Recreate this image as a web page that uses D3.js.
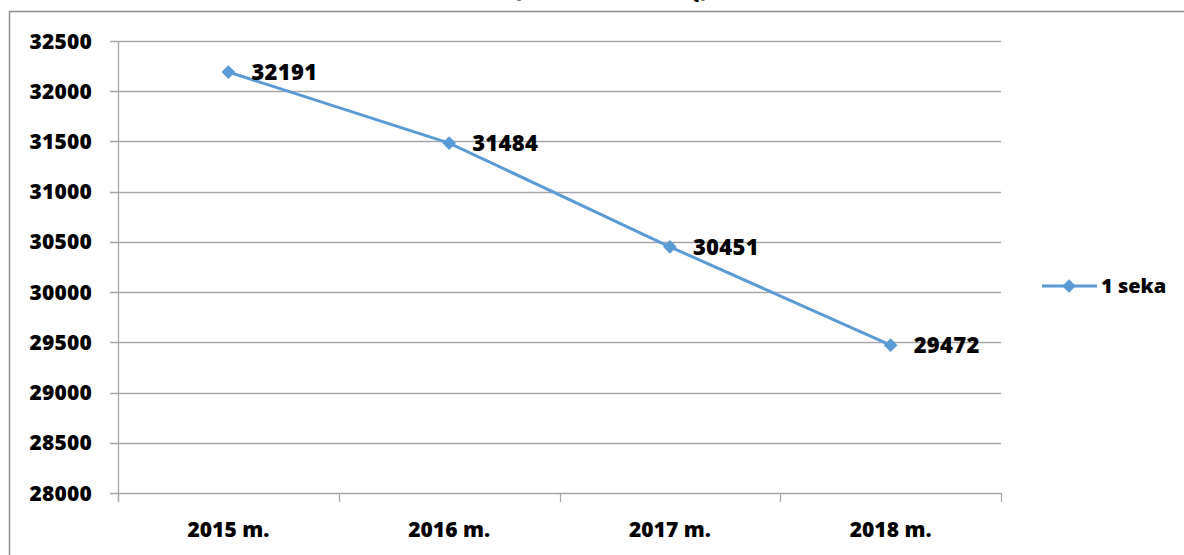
<!DOCTYPE html>
<html>
<head>
<meta charset="utf-8">
<script src="https://cdn.jsdelivr.net/npm/d3@7"></script>
<style>
  body { margin: 0; background: #fff; }
  svg text { font-family: "Open Sans", sans-serif; font-weight: 800; fill: #000; }
</style>
</head>
<body>
<svg width="1184" height="555"></svg>
<script>
// data
const years = ["2015 m.", "2016 m.", "2017 m.", "2018 m."];
const values = [32191, 31484, 30451, 29472];
const yTicks = [28000, 28500, 29000, 29500, 30000, 30500, 31000, 31500, 32000, 32500];
const seriesName = "1 seka";
const titleText = "(1 seka, mokinių)";

const svg = d3.select("svg");
const blue = "#5b9bd5";
const grid = "#a6a6a6";

// outer chart border (runs off the right/bottom edge)
svg.append("rect")
  .attr("x", 9.5).attr("y", 11.5)
  .attr("width", 1200).attr("height", 600)
  .attr("fill", "none").attr("stroke", "#8c8c8c").attr("stroke-width", 1.5);

// title, mostly cut off above the picture
svg.append("text")
  .attr("x", 611).attr("y", -4)
  .attr("text-anchor", "middle")
  .style("font-size", "22px")
  .text(titleText);

const x = d3.scaleBand().domain(years).range([118, 1001]);
const y = d3.scaleLinear().domain([28000, 32500]).range([493, 41]);

// gridlines
svg.append("g")
  .selectAll("line")
  .data(yTicks)
  .enter()
  .append("line")
  .attr("x1", 110).attr("x2", 1001)
  .attr("y1", (d) => Math.round(y(d)) + 0.5)
  .attr("y2", (d) => Math.round(y(d)) + 0.5)
  .attr("stroke", grid).attr("stroke-width", 1.3);

// y axis line
svg.append("line")
  .attr("x1", 118.5).attr("x2", 118.5)
  .attr("y1", 41).attr("y2", 502)
  .attr("stroke", grid).attr("stroke-width", 1.3);

// x ticks
const xEdges = years.map((d) => x(d)).concat([x.range()[1]]);
svg.append("g")
  .selectAll("line")
  .data(xEdges)
  .enter()
  .append("line")
  .attr("x1", (d) => Math.round(d) + 0.5)
  .attr("x2", (d) => Math.round(d) + 0.5)
  .attr("y1", 493).attr("y2", 502)
  .attr("stroke", grid).attr("stroke-width", 1.3);

// y labels
svg.append("g")
  .selectAll("text")
  .data(yTicks)
  .enter()
  .append("text")
  .attr("x", 92)
  .attr("y", (d) => y(d))
  .attr("dy", "0.36em")
  .attr("text-anchor", "end")
  .style("font-size", "21px")
  .style("letter-spacing", "0.2px")
  .text((d) => d);

// x labels
svg.append("g")
  .selectAll("text")
  .data(years)
  .enter()
  .append("text")
  .attr("x", (d) => x(d) + x.bandwidth() / 2)
  .attr("y", 537)
  .attr("text-anchor", "middle")
  .style("font-size", "21px")
  .text((d) => d);

// line
const pts = years.map((d, i) => [x(d) + x.bandwidth() / 2, y(values[i])]);
svg.append("path")
  .attr("d", d3.line()(pts))
  .attr("fill", "none")
  .attr("stroke", blue)
  .attr("stroke-width", 3);

const diamond = d3.symbol().type(d3.symbolDiamond2).size(120);
svg.append("g")
  .selectAll("path")
  .data(pts)
  .enter()
  .append("path")
  .attr("d", diamond)
  .attr("transform", (d) => `translate(${d[0]},${d[1]})`)
  .attr("fill", blue);

// data labels
svg.append("g")
  .selectAll("text")
  .data(values)
  .enter()
  .append("text")
  .attr("x", (d, i) => pts[i][0] + 23)
  .attr("y", (d, i) => pts[i][1])
  .attr("dy", "0.36em")
  .style("font-size", "22px")
  .style("letter-spacing", "0.3px")
  .text((d) => d);

// legend
const lg = svg.append("g");
lg.append("line")
  .attr("x1", 1042).attr("x2", 1097)
  .attr("y1", 286).attr("y2", 286)
  .attr("stroke", blue).attr("stroke-width", 3);
lg.append("path")
  .attr("d", diamond)
  .attr("transform", "translate(1069,286)")
  .attr("fill", blue);
lg.append("text")
  .attr("x", 1101).attr("y", 286)
  .attr("dy", "0.36em")
  .style("font-size", "20px")
  .text(seriesName);
</script>
</body>
</html>
